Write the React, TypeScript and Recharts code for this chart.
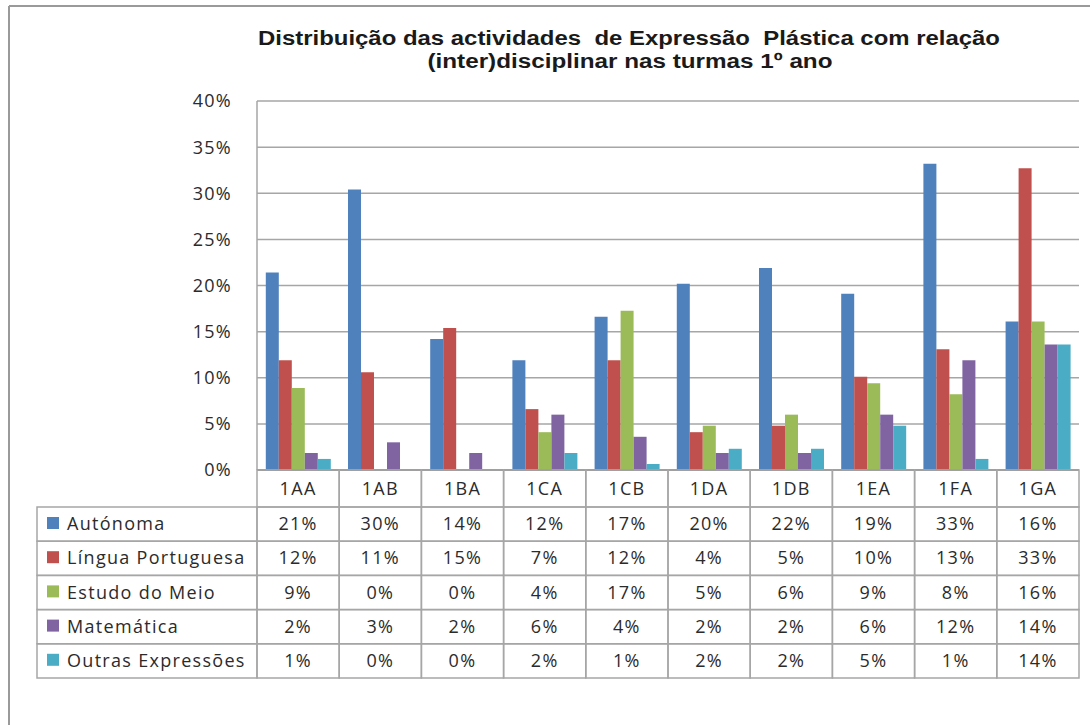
import { BarChart, Bar, XAxis, YAxis, CartesianGrid } from "recharts";

const classes = ["1AA", "1AB", "1BA", "1CA", "1CB", "1DA", "1DB", "1EA", "1FA", "1GA"];

const autonoma = [0.214, 0.304, 0.142, 0.119, 0.166, 0.202, 0.219, 0.191, 0.332, 0.161];
const linguaPortuguesa = [0.119, 0.106, 0.154, 0.066, 0.119, 0.041, 0.048, 0.101, 0.131, 0.327];
const estudoDoMeio = [0.089, 0, 0, 0.041, 0.1725, 0.048, 0.06, 0.094, 0.082, 0.161];
const matematica = [0.0184, 0.03, 0.0184, 0.06, 0.036, 0.0184, 0.0184, 0.06, 0.119, 0.136];
const outrasExpressoes = [0.012, 0, 0, 0.0184, 0.0065, 0.023, 0.023, 0.048, 0.012, 0.136];

const yTicks = [0, 0.05, 0.1, 0.15, 0.2, 0.25, 0.3, 0.35, 0.4];

const series = [
  { key: "autonoma", name: "Autónoma", color: "#4F81BD", values: autonoma },
  { key: "lingua", name: "Língua Portuguesa", color: "#C0504D", values: linguaPortuguesa },
  { key: "meio", name: "Estudo do Meio", color: "#9BBB59", values: estudoDoMeio },
  { key: "mat", name: "Matemática", color: "#8064A2", values: matematica },
  { key: "outras", name: "Outras Expressões", color: "#4BACC6", values: outrasExpressoes },
];

const data = classes.map((c, i) => {
  const row: Record<string, string | number> = { turma: c };
  series.forEach((s) => {
    row[s.key] = s.values[i];
  });
  return row;
});

// layout
const W = 1090;
const H = 725;
const PLOT_LEFT = 257;
const PLOT_RIGHT = 1079;
const PLOT_TOP = 101;
const PLOT_BOTTOM = 470;
const TABLE_BOTTOM = 678;
const HEADER_H = 37;
const ROW_H = 34.2;
const TABLE_LEFT = 37;
const BAND = (PLOT_RIGHT - PLOT_LEFT) / classes.length;
const LINE = "#a6a6a6";
const TEXT = "#2b2b2b";
const FONT = "'Open Sans', sans-serif";
const TITLE_FONT = "'Liberation Sans', Arial, sans-serif";

const pct = (v: number) => `${Math.round(v * 100)}%`;

const cellText = {
  fontSize: 18,
  fontFamily: FONT,
  fill: TEXT,
  letterSpacing: 1.3,
};

function TableColumn(props: any) {
  const { x, payload } = props;
  const i = payload.index;
  const left = x - BAND / 2;
  const top = PLOT_BOTTOM;
  return (
    <g>
      <rect x={left} y={top} width={BAND} height={HEADER_H} fill="none" stroke={LINE} strokeWidth={1.5} />
      <text x={x} y={top + HEADER_H / 2 + 6} textAnchor="middle" {...cellText}>
        {payload.value}
      </text>
      {series.map((s, r) => {
        const ry = top + HEADER_H + r * ROW_H;
        return (
          <g key={s.key}>
            <rect x={left} y={ry} width={BAND} height={ROW_H} fill="none" stroke={LINE} strokeWidth={1.5} />
            <text x={x} y={ry + ROW_H / 2 + 6} textAnchor="middle" {...cellText}>
              {pct(s.values[i])}
            </text>
          </g>
        );
      })}
    </g>
  );
}

function Overlay() {
  const bodyTop = PLOT_BOTTOM + HEADER_H;
  return (
    <svg
      width={W}
      height={H}
      style={{ position: "absolute", left: 0, top: 0, pointerEvents: "none" }}
    >
      <line x1={9} y1={6} x2={W} y2={6} stroke="#9a9a9a" strokeWidth={2} />
      <line x1={9} y1={6} x2={9} y2={H} stroke="#9a9a9a" strokeWidth={2} />
      <text
        x={629}
        y={45}
        textAnchor="middle"
        fontSize={20}
        fontWeight="bold"
        fontFamily={TITLE_FONT}
        fill="#1a1a1a"
        textLength={742}
        lengthAdjust="spacingAndGlyphs"
        style={{ whiteSpace: "pre" }}
      >
        {"Distribuição das actividades  de Expressão  Plástica com relação"}
      </text>
      <text
        x={630}
        y={68}
        textAnchor="middle"
        fontSize={20}
        fontWeight="bold"
        fontFamily={TITLE_FONT}
        fill="#1a1a1a"
        textLength={405}
        lengthAdjust="spacingAndGlyphs"
      >
        (inter)disciplinar nas turmas 1º ano
      </text>
      {series.map((s, r) => {
        const ry = bodyTop + r * ROW_H;
        return (
          <g key={s.key}>
            <rect
              x={TABLE_LEFT}
              y={ry}
              width={PLOT_LEFT - TABLE_LEFT}
              height={ROW_H}
              fill="none"
              stroke={LINE}
              strokeWidth={1.5}
            />
            <rect x={47} y={ry + 10} width={12} height={12} fill={s.color} />
            <text x={67} y={ry + ROW_H / 2 + 6} {...cellText}>
              {s.name}
            </text>
          </g>
        );
      })}
    </svg>
  );
}

export default function App() {
  return (
    <div style={{ position: "absolute", left: 0, top: 0, width: W, height: H, background: "#fff" }}>
      <BarChart
        width={W}
        height={H}
        data={data}
        margin={{ top: PLOT_TOP, right: W - PLOT_RIGHT, bottom: H - TABLE_BOTTOM, left: 0 }}
        barCategoryGap="10.7%"
        barGap={0}
      >
        <CartesianGrid vertical={false} stroke={LINE} strokeWidth={1.5} />
        <YAxis
          width={PLOT_LEFT}
          domain={[0, 0.4]}
          ticks={yTicks}
          tickFormatter={pct}
          tickLine={false}
          tickMargin={19}
          axisLine={{ stroke: LINE, strokeWidth: 1.5 }}
          tick={cellText}
        />
        <XAxis
          dataKey="turma"
          height={TABLE_BOTTOM - PLOT_BOTTOM}
          interval={0}
          tickLine={false}
          tickSize={0}
          axisLine={{ stroke: "#8c8c8c", strokeWidth: 2 }}
          tick={<TableColumn />}
        />
        {series.map((s) => (
          <Bar key={s.key} dataKey={s.key} name={s.name} fill={s.color} isAnimationActive={false} />
        ))}
      </BarChart>
      <Overlay />
    </div>
  );
}
